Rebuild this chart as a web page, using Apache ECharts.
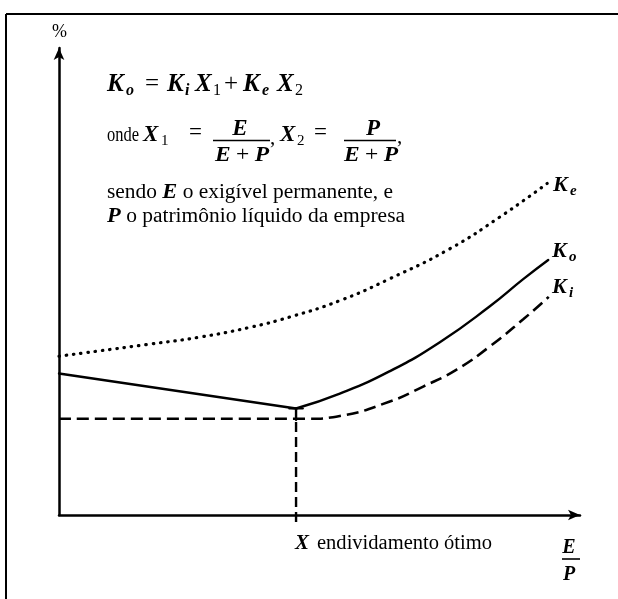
<!DOCTYPE html>
<html><head><meta charset="utf-8">
<script src="https://cdn.jsdelivr.net/npm/echarts@6/dist/echarts.min.js"></script>
<style>html,body{margin:0;padding:0;background:#fff}#c{width:618px;height:599px}</style>
</head><body><div id="c"></div>
<script>
// ---- data (x: E/P scale 0-100, y: % scale 0-100) ----
const keCurve = [[0,34.0],[17.5,36.6],[27.1,38.1],[36.7,40.2],[44.3,42.4],[53.9,45.9],[63.5,50.6],[75.0,57.0],[84.6,63.8],[93.7,71.0]];
const koLeft  = [[0,30.3],[45.5,22.8]];
const koRight = [[45.5,22.8],[53.9,26.0],[63.5,30.8],[73.1,37.0],[82.7,44.7],[89.1,50.5],[93.9,54.6]];
const kiCurve = [[0,20.6],[47.6,20.6],[53.9,21.2],[63.5,24.3],[69.9,27.5],[76.4,31.2],[82.7,36.1],[89.1,41.9],[94.0,46.7]];
const optimumX = 45.5;
const optDashed = [[optimumX,-1.5],[optimumX,20.4]];
const optSolid  = [[optimumX,20.4],[optimumX,22.8]];
const optCap    = [[44.2,22.8],[46.8,22.8]];

const FONT = "'Liberation Serif','Times New Roman',serif";
const mctx = document.createElement('canvas').getContext('2d');
function fstr(sz,it,b){return (it?'italic ':'')+(b?'bold ':'')+sz+'px '+FONT;}
function measure(t,sz,it,b){mctx.font=fstr(sz,it,b);return mctx.measureText(t).width;}
// text whose baseline is at 'base'
function txt(x,base,t,sz,it,b,align){
  return {type:'text',x:x,y:base-0.3*sz,silent:true,z:100,style:{text:t,fontFamily:FONT,fontSize:sz,
    fontStyle:it?'italic':'normal',fontWeight:b?'bold':'normal',fill:'#000',
    align:align||'left',verticalAlign:'middle'}};
}
// row of segments stretched horizontally to span [x0,x1]
function fitRow(x0,x1,base,segs){
  let cx=0; const kids=[];
  segs.forEach(s=>{ if(s.gap){cx+=s.gap;return;}
    kids.push(txt(cx,base,s.t,s.s,s.it,s.b)); cx+=measure(s.t,s.s,s.it,s.b); });
  return {type:'group',x:x0,y:0,scaleX:(x1-x0)/cx,children:kids};
}
const g=[];
// border
g.push({type:'line',shape:{x1:6,y1:14,x2:618,y2:14},style:{stroke:'#000',lineWidth:2}});
g.push({type:'line',shape:{x1:6,y1:14,x2:6,y2:599},style:{stroke:'#000',lineWidth:2}});
// %
g.push(txt(52,38,'%',18,false,false));
// formula line 1 (glyphs placed where they sit in the figure)
const L1=92, L1s=96, M=25, S=16;
g.push(txt(107,L1,'K',M,1,1)); g.push(txt(126,L1s,'o',S,1,1));
g.push(txt(145,L1,'=',M));
g.push(txt(167,L1,'K',M,1,1)); g.push(txt(185,L1s,'i',S,1,1));
g.push(txt(195,L1,'X',M,1,1)); g.push(txt(213,L1s,'1',S));
g.push(txt(224,L1,'+',M));
g.push(txt(243,L1,'K',M,1,1)); g.push(txt(262,L1s,'e',S,1,1));
g.push(txt(277,L1,'X',M,1,1)); g.push(txt(295,L1s,'2',S));
// formula line 2
const L2=142;
g.push(fitRow(107,139,L2,[{t:'onde',s:20}]));
g.push(txt(143,L2,'X',23,1,1)); g.push(txt(161,L2+4,'1',15));
g.push(txt(189,L2-2,'=',23));
function frac(cx,dcx,num,left,right){
  g.push(txt(cx,136,num,23,true,true,'center'));
  g.push({type:'line',shape:{x1:left,y1:140.5,x2:right,y2:140.5},style:{stroke:'#000',lineWidth:1.6}});
  g.push(fitRow(dcx-27,dcx+27,162,[{t:'E',s:22,it:1,b:1},{gap:5},{t:'+',s:22},{gap:5},{t:'P',s:22,it:1,b:1}]));
}
frac(240,242,'E',213,270);
g.push(txt(270,L2+3,',',21));
g.push(txt(280,L2,'X',23,1,1)); g.push(txt(297,L2+4,'2',15));
g.push(txt(314,L2-2,'=',23));
frac(373,371,'P',344,396);
g.push(txt(397,L2+2,',',21));
// lines 3,4
g.push(fitRow(107,393,199,[{t:'sendo ',s:20},{t:'E',s:21,it:1,b:1},{t:' o exigível permanente, e',s:20}]));
g.push(fitRow(107,405,223,[{t:'P',s:21,it:1,b:1},{t:' o patrimônio líquido da empresa',s:20}]));
// curve labels
g.push(txt(553,192,'K',22,1,1)); g.push(txt(570,196,'e',15,1,1));
g.push(txt(552,258,'K',22,1,1)); g.push(txt(569,262,'o',15,1,1));
g.push(txt(552,294,'K',22,1,1)); g.push(txt(569,298,'i',15,1,1));
// x label
g.push(txt(295,550,'X',21,1,1));
g.push(fitRow(317,492,550,[{t:'endividamento ótimo',s:20}]));
g.push(txt(569,554,'E',20,true,true,'center'));
g.push({type:'line',shape:{x1:562,y1:559,x2:580,y2:559},style:{stroke:'#000',lineWidth:1.6}});
g.push(txt(569,581,'P',20,true,true,'center'));

const chart=echarts.init(document.getElementById('c'),null,{renderer:'canvas'});
const axisCommon={type:'value',min:0,max:100,
  axisLine:{show:true,onZero:false,symbol:['none','arrow'],symbolSize:[8,12],lineStyle:{color:'#000',width:2.5}},
  axisTick:{show:false},axisLabel:{show:false},splitLine:{show:false}};
function ln(data,type,width,smooth,cap){
  return {type:'line',data:data,showSymbol:false,symbol:'none',smooth:smooth,silent:true,clip:false,
    lineStyle:{color:'#000',width:width,type:type,cap:cap||'round'}};
}
chart.setOption({
  backgroundColor:'#fff',
  animation:false,
  grid:{left:59,right:38,top:48,bottom:84},
  xAxis:axisCommon,
  yAxis:axisCommon,
  series:[
    ln(keCurve,[0.5,6.8],3.2,0.5),
    ln(koLeft,'solid',2.4,false),
    ln(koRight,'solid',2.4,0.5),
    ln(kiCurve,[12,6],2.6,0.5,'butt'),
    ln(optDashed,[10,5],2.4,false,'butt'),
    ln(optSolid,'solid',2.4,false),
    ln(optCap,'solid',2.2,false)
  ],
  graphic:g
});
</script></body></html>
